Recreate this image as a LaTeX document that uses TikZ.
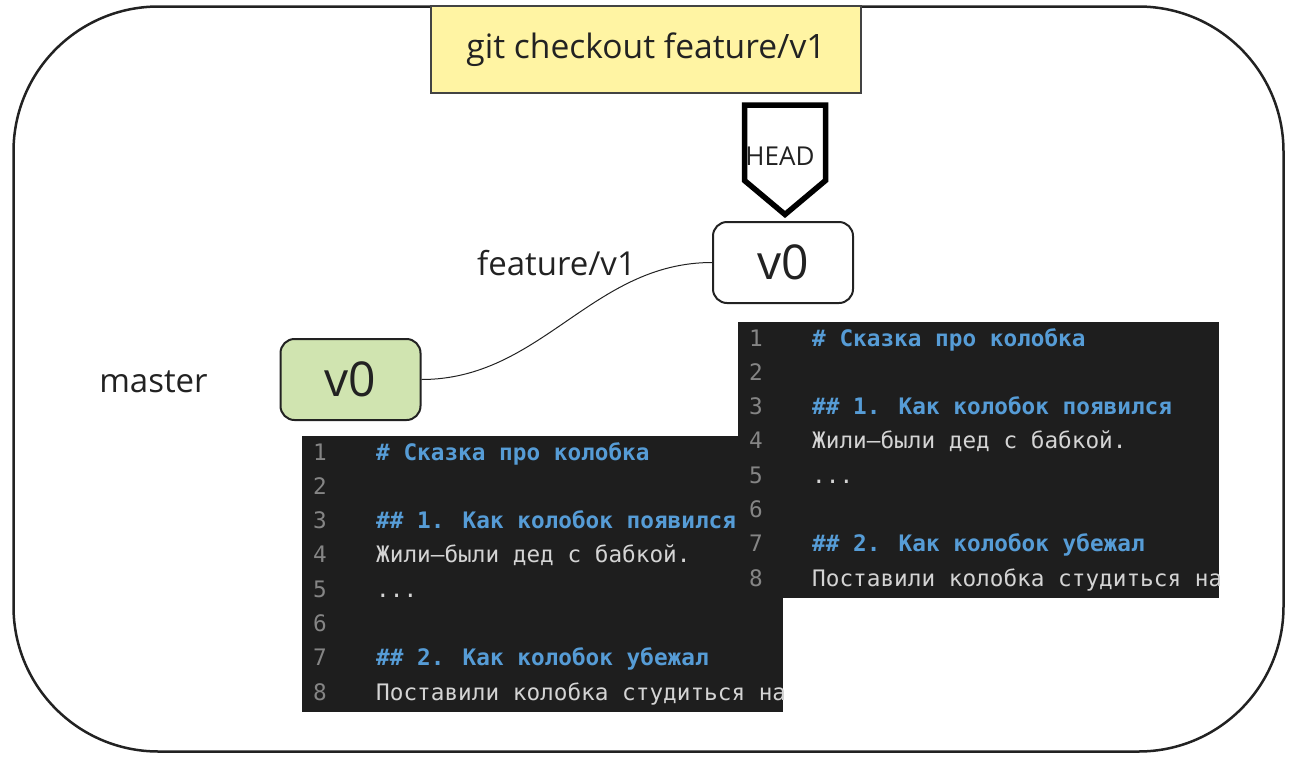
\documentclass[tikz,border=0pt]{standalone}
\usepackage{fontspec}
\setmainfont{Open Sans}
\newfontfamily\codefont{DejaVu Sans Mono}

\definecolor{ink}{HTML}{222222}
\definecolor{notefill}{HTML}{FFF4A3}
\definecolor{masterfill}{HTML}{D0E4B0}
\definecolor{codebg}{HTML}{1E1E1E}
\definecolor{codenum}{HTML}{858585}
\definecolor{codehead}{HTML}{569CD6}
\definecolor{codetext}{HTML}{D4D4D4}

% one editor window with the story file, top left corner at the scope origin
\newcommand{\storyfile}{%
  \fill[codebg] (0,0) rectangle (481,276);
  \begin{scope}
    \clip (0,0) rectangle (481,276);
    \foreach \i in {1,...,8}
      \node[lnum] (n\i) at (11,{24+34.3*(\i-1)}) {\i};
    \node[mdhead] (l1) at (74,24) {\# Сказка про колобка};
    \node[mdhead] (l3) at (74,92.6) {\#\# 1. Как колобок появился};
    \node[mdtext] (l4) at (74,126.9) {Жили–были дед с бабкой.};
    \node[mdtext] (l5) at (74,161.2) {...};
    \node[mdhead] (l7) at (74,229.8) {\#\# 2. Как колобок убежал};
    \node[mdtext] (l8) at (74,264.1) {Поставили колобка студиться на};
  \end{scope}
}

\begin{document}
\begin{tikzpicture}[x=1pt, y=-1pt,
    commit/.style={draw=ink, line width=2pt, rounded corners=14pt,
      minimum width=140pt, minimum height=81pt, text=ink,
      font=\fontsize{48}{56}\selectfont},
    note/.style={draw=ink!85, line width=2pt, fill=notefill,
      minimum width=430pt, minimum height=87pt, text=ink,
      font=\fontsize{33.6}{40}\selectfont},
    branch/.style={anchor=base, inner sep=0pt, text=ink,
      font=\fontsize{33}{40}\selectfont},
    lnum/.style={anchor=base west, inner sep=0pt, text=codenum,
      font=\codefont\fontsize{22.7}{27}\selectfont},
    mdhead/.style={lnum, text=codehead, font=\codefont\bfseries\fontsize{22.7}{27}\selectfont},
    mdtext/.style={lnum, text=codetext},
    wire/.style={draw=ink, line width=1pt}]
  \useasboundingbox (0,0) rectangle (1294,764);

  % frame
  \draw[ink, line width=2.5pt, rounded corners=145pt] (13.5,6.5) rectangle (1283.5,751.5);

  \node[note] (cmd) at (646,49.5) {git checkout feature/v1};

  % commits
  \node[commit, fill=masterfill] (mv0) at (350.5,379.5) {v0};
  \node[commit, fill=white] (fv0) at (783,262.5) {v0};
  \node[branch] (master) at (153.5,392) {master};
  \node[branch] (feature) at (556.5,275) {feature/v1};
  \path[wire] (mv0.east) .. controls +(120,0) and +(-120,0) .. (fv0.west);

  % HEAD pointer
  \draw[line width=5.5pt, line join=miter, fill=white]
    (744.5,105) -- (825.5,105) -- (825.5,180.5) -- (785,214.5) -- (744.5,180.5) -- cycle;
  \node[branch, font=\fontsize{26}{32}\selectfont] (head) at (780,165) {HEAD};

  % file contents on each branch
  \begin{scope}[shift={(302,436)}, name prefix=old-]
    \storyfile
  \end{scope}
  \begin{scope}[shift={(738,322)}, name prefix=new-]
    \storyfile
  \end{scope}
\end{tikzpicture}
\end{document}
